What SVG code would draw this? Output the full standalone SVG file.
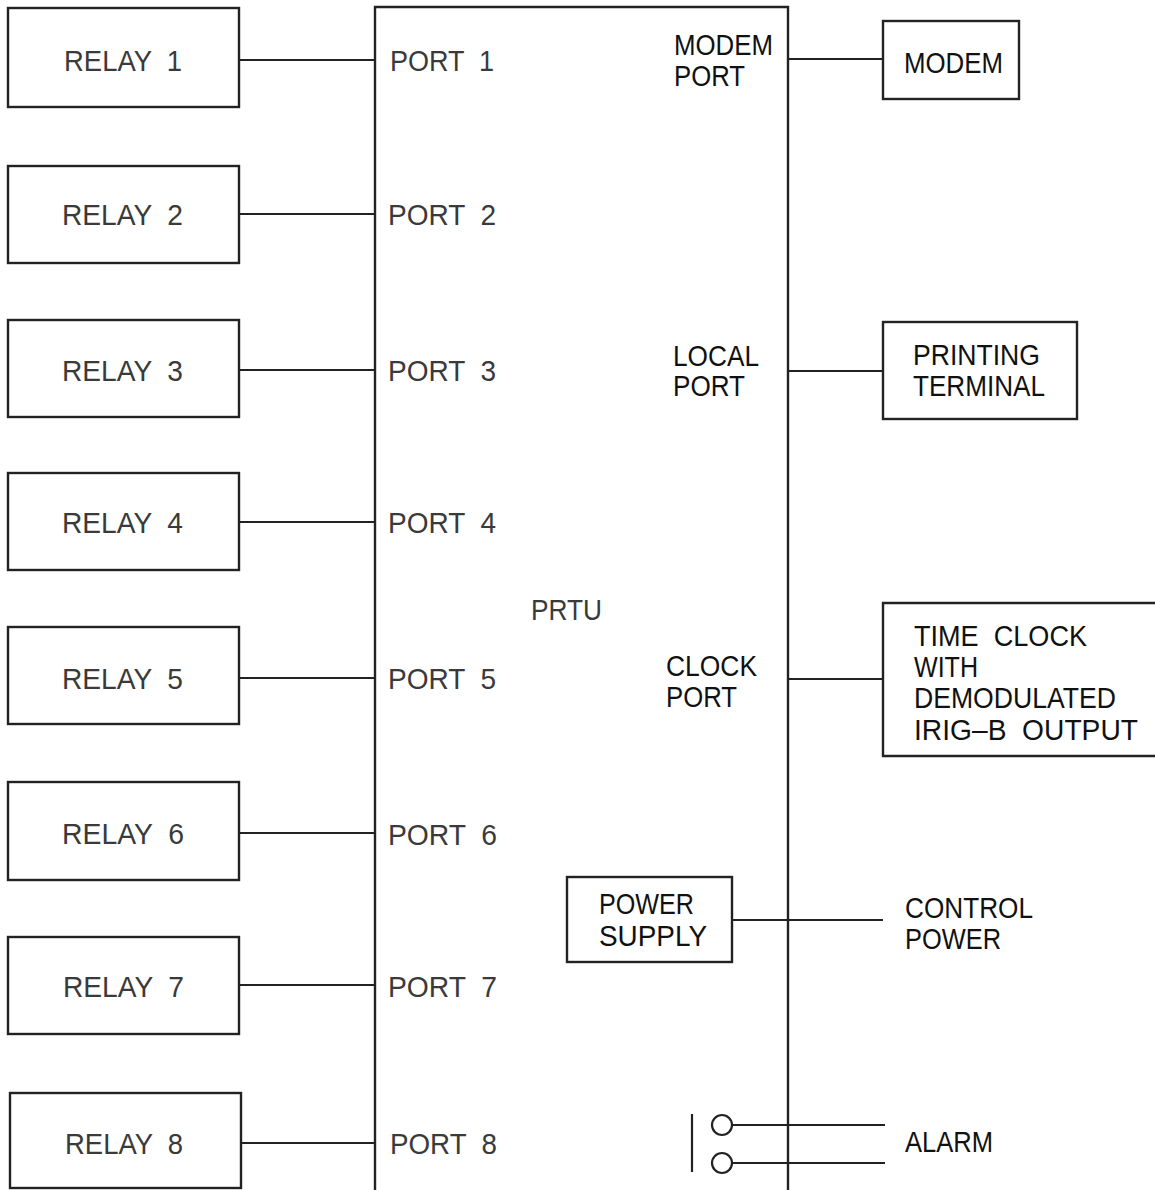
<svg xmlns="http://www.w3.org/2000/svg" width="1155" height="1190" viewBox="0 0 1155 1190" xml:space="preserve">
<style>
.box{fill:none;stroke:#222;stroke-width:2.4}
.ln{fill:none;stroke:#222;stroke-width:2.2}
.t{font-family:"Liberation Sans",Arial,sans-serif;font-size:29px;fill:#3a3a3a;white-space:pre}
.d{font-family:"Liberation Sans",Arial,sans-serif;font-size:29px;fill:#111;white-space:pre}
</style>
<rect width="1155" height="1190" fill="#fff"/>
<g id="prtu">
<path class="box" d="M375,1192 V7 H788 V1192"/>
<text class="t" x="531" y="620" textLength="71" lengthAdjust="spacingAndGlyphs">PRTU</text>
<text class="t" x="390" y="71" textLength="104" lengthAdjust="spacingAndGlyphs">PORT  1</text>
<text class="t" x="388" y="225" textLength="108" lengthAdjust="spacingAndGlyphs">PORT  2</text>
<text class="t" x="388" y="381" textLength="108" lengthAdjust="spacingAndGlyphs">PORT  3</text>
<text class="t" x="388" y="533" textLength="108" lengthAdjust="spacingAndGlyphs">PORT  4</text>
<text class="t" x="388" y="689" textLength="108" lengthAdjust="spacingAndGlyphs">PORT  5</text>
<text class="t" x="388" y="845" textLength="109" lengthAdjust="spacingAndGlyphs">PORT  6</text>
<text class="t" x="388" y="997" textLength="109" lengthAdjust="spacingAndGlyphs">PORT  7</text>
<text class="t" x="390" y="1154" textLength="107" lengthAdjust="spacingAndGlyphs">PORT  8</text>
<text class="d" x="674" y="55" textLength="99" lengthAdjust="spacingAndGlyphs">MODEM</text>
<text class="d" x="674" y="86" textLength="71" lengthAdjust="spacingAndGlyphs">PORT</text>
<text class="d" x="673" y="366" textLength="86" lengthAdjust="spacingAndGlyphs">LOCAL</text>
<text class="d" x="673" y="396" textLength="72" lengthAdjust="spacingAndGlyphs">PORT</text>
<text class="d" x="666" y="676" textLength="91" lengthAdjust="spacingAndGlyphs">CLOCK</text>
<text class="d" x="666" y="707" textLength="71" lengthAdjust="spacingAndGlyphs">PORT</text>
</g>
<g id="relay1"><rect class="box" x="8" y="8" width="231" height="99"/><text class="t" x="64" y="71" textLength="118" lengthAdjust="spacingAndGlyphs">RELAY  1</text></g>
<g id="relay2"><rect class="box" x="8" y="166" width="231" height="97"/><text class="t" x="62" y="225" textLength="121" lengthAdjust="spacingAndGlyphs">RELAY  2</text></g>
<g id="relay3"><rect class="box" x="8" y="320" width="231" height="97"/><text class="t" x="62" y="381" textLength="121" lengthAdjust="spacingAndGlyphs">RELAY  3</text></g>
<g id="relay4"><rect class="box" x="8" y="473" width="231" height="97"/><text class="t" x="62" y="533" textLength="121" lengthAdjust="spacingAndGlyphs">RELAY  4</text></g>
<g id="relay5"><rect class="box" x="8" y="627" width="231" height="97"/><text class="t" x="62" y="689" textLength="121" lengthAdjust="spacingAndGlyphs">RELAY  5</text></g>
<g id="relay6"><rect class="box" x="8" y="782" width="231" height="98"/><text class="t" x="62" y="844" textLength="122" lengthAdjust="spacingAndGlyphs">RELAY  6</text></g>
<g id="relay7"><rect class="box" x="8" y="937" width="231" height="97"/><text class="t" x="63" y="997" textLength="121" lengthAdjust="spacingAndGlyphs">RELAY  7</text></g>
<g id="relay8"><rect class="box" x="10" y="1093" width="231" height="95"/><text class="t" x="65" y="1154" textLength="118" lengthAdjust="spacingAndGlyphs">RELAY  8</text></g>
<g id="modem"><rect class="box" x="883" y="21" width="136" height="78"/><text class="d" x="904" y="73" textLength="99" lengthAdjust="spacingAndGlyphs">MODEM</text></g>
<g id="printing-terminal"><rect class="box" x="883" y="322" width="194" height="97"/>
<text class="d" x="913" y="365" textLength="127" lengthAdjust="spacingAndGlyphs">PRINTING</text>
<text class="d" x="913" y="396" textLength="132" lengthAdjust="spacingAndGlyphs">TERMINAL</text></g>
<g id="time-clock"><path class="box" d="M1160,603 H883 V756 H1160"/>
<text class="d" x="914" y="646" textLength="173" lengthAdjust="spacingAndGlyphs">TIME  CLOCK</text>
<text class="d" x="914" y="677" textLength="64" lengthAdjust="spacingAndGlyphs">WITH</text>
<text class="d" x="914" y="708" textLength="202" lengthAdjust="spacingAndGlyphs">DEMODULATED</text>
<text class="d" x="914" y="740" textLength="224" lengthAdjust="spacingAndGlyphs">IRIG–B  OUTPUT</text></g>
<g id="power-supply"><rect class="box" x="567" y="877" width="165" height="85"/>
<text class="d" x="599" y="914" textLength="95" lengthAdjust="spacingAndGlyphs">POWER</text>
<text class="d" x="599" y="946" textLength="108" lengthAdjust="spacingAndGlyphs">SUPPLY</text></g>
<g id="control-power">
<text class="d" x="905" y="918" textLength="128" lengthAdjust="spacingAndGlyphs">CONTROL</text>
<text class="d" x="905" y="949" textLength="96" lengthAdjust="spacingAndGlyphs">POWER</text></g>
<g id="alarm">
<line class="ln" x1="692" y1="1114" x2="692" y2="1172"/>
<circle class="ln" cx="722" cy="1125" r="10"/>
<circle class="ln" cx="722" cy="1163" r="10"/>
<text class="d" x="905" y="1152" textLength="88" lengthAdjust="spacingAndGlyphs">ALARM</text></g>
<g id="connectors">
<line class="ln" x1="239" y1="60" x2="375" y2="60"/>
<line class="ln" x1="239" y1="214" x2="375" y2="214"/>
<line class="ln" x1="239" y1="370" x2="375" y2="370"/>
<line class="ln" x1="239" y1="522" x2="375" y2="522"/>
<line class="ln" x1="239" y1="678" x2="375" y2="678"/>
<line class="ln" x1="239" y1="833" x2="375" y2="833"/>
<line class="ln" x1="239" y1="985" x2="375" y2="985"/>
<line class="ln" x1="241" y1="1143" x2="375" y2="1143"/>
<line class="ln" x1="788" y1="59" x2="883" y2="59"/>
<line class="ln" x1="788" y1="371" x2="883" y2="371"/>
<line class="ln" x1="788" y1="679" x2="883" y2="679"/>
<line class="ln" x1="732" y1="920" x2="883" y2="920"/>
<line class="ln" x1="732" y1="1125" x2="885" y2="1125"/>
<line class="ln" x1="732" y1="1163" x2="885" y2="1163"/>
</g>
</svg>
